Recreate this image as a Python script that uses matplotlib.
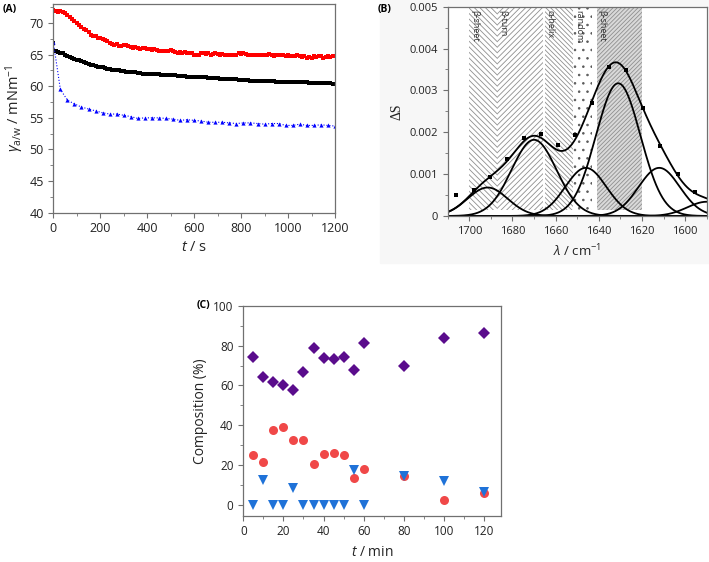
import numpy as np
import matplotlib.pyplot as plt
from matplotlib.patches import Rectangle
from matplotlib.ticker import MultipleLocator, FuncFormatter

plt.rcParams['font.family'] = ['Open Sans', 'DejaVu Sans']
plt.rcParams['mathtext.fontset'] = 'custom'
plt.rcParams['mathtext.rm'] = 'Open Sans'
plt.rcParams['mathtext.it'] = 'Open Sans:italic'
plt.rcParams['hatch.linewidth'] = 0.6

# ---------------- panel A: surface tension vs time ----------------
t_dense = np.arange(0, 1201, 10)
gamma_red = [72.0, 71.9, 71.8, 71.9, 71.7, 71.5, 71.3, 71.0, 70.7, 70.3,
             70.0, 69.7, 69.4, 69.1, 68.9, 68.6, 68.1, 67.9, 67.9, 67.7,
             67.6, 67.5, 67.3, 67.1, 66.8, 66.6, 66.5, 66.6, 66.4, 66.4,
             66.5, 66.5, 66.3, 66.2, 66.1, 66.2, 66.0, 65.9, 66.0, 66.1,
             65.9, 65.9, 65.8, 65.9, 65.7, 65.6, 65.5, 65.5, 65.5, 65.6,
             65.8, 65.6, 65.4, 65.3, 65.4, 65.3, 65.4, 65.3, 65.2, 65.2,
             65.0, 64.9, 65.0, 65.2, 65.2, 65.1, 65.2, 65.0, 65.1, 65.2,
             65.1, 65.0, 65.1, 65.0, 65.0, 64.9, 65.0, 64.9, 65.0, 65.2,
             65.1, 65.2, 65.1, 65.0, 64.9, 65.0, 65.0, 64.9, 64.9, 65.0,
             65.0, 65.0, 65.1, 64.9, 64.8, 64.9, 65.0, 64.9, 64.9, 64.8,
             64.9, 64.8, 64.7, 64.8, 64.9, 64.8, 64.6, 64.7, 64.5, 64.6,
             64.5, 64.7, 64.6, 64.8, 64.7, 64.5, 64.6, 64.7, 64.6, 64.7,
             64.8]
gamma_black = [66.9, 65.6, 65.4, 65.3, 65.2, 65.0, 64.8, 64.6, 64.5, 64.3,
               64.2, 64.1, 64.0, 63.8, 63.6, 63.5, 63.4, 63.3, 63.2, 63.1,
               63.1, 63.0, 62.9, 62.8, 62.7, 62.6, 62.6, 62.5, 62.5, 62.4,
               62.4, 62.3, 62.3, 62.3, 62.2, 62.2, 62.1, 62.1, 62.0, 62.0,
               62.0, 61.9, 61.9, 61.9, 61.9, 61.9, 61.8, 61.8, 61.8, 61.8,
               61.7, 61.7, 61.7, 61.6, 61.6, 61.6, 61.6, 61.5, 61.5, 61.5,
               61.5, 61.4, 61.4, 61.4, 61.4, 61.4, 61.3, 61.3, 61.3, 61.3,
               61.3, 61.2, 61.2, 61.2, 61.2, 61.1, 61.1, 61.1, 61.1, 61.0,
               61.0, 61.0, 61.0, 61.0, 60.9, 60.9, 60.9, 60.9, 60.9, 60.8,
               60.8, 60.8, 60.8, 60.8, 60.8, 60.7, 60.7, 60.7, 60.7, 60.7,
               60.7, 60.6, 60.6, 60.6, 60.6, 60.6, 60.6, 60.6, 60.6, 60.5,
               60.5, 60.5, 60.5, 60.5, 60.5, 60.5, 60.5, 60.5, 60.5, 60.4,
               60.4]
t_blue = np.arange(0, 1201, 30)
gamma_blue = [67.0, 59.5, 57.8, 57.2, 56.7, 56.4, 56.1, 55.8, 55.6, 55.6,
              55.4, 55.2, 54.9, 55.0, 55.0, 55.0, 54.9, 54.8, 54.6, 54.7,
              54.6, 54.5, 54.3, 54.3, 54.3, 54.2, 54.1, 54.2, 54.2, 54.1,
              54.0, 54.1, 54.1, 53.8, 53.8, 54.0, 53.8, 53.8, 53.9, 53.8,
              53.7]

# ---------------- panel B: amide I band deconvolution ----------------
wn_points = [1706.0, 1697.9, 1690.3, 1682.5, 1674.5, 1666.7, 1658.9, 1651.0,
             1643.0, 1635.3, 1627.2, 1619.6, 1611.7, 1603.5, 1595.6]
dS_points = [0.00049, 0.00061, 0.00094, 0.00135, 0.00186, 0.00195, 0.00170,
             0.00193, 0.00271, 0.00357, 0.00349, 0.00257, 0.00166, 0.00100,
             0.00057]
# fitted gaussian components (centre, height, width)
peak_centres = [1691.5, 1670.0, 1646.0, 1631.0, 1612.0, 1590.0]
peak_heights = [0.00068, 0.00182, 0.00115, 0.00317, 0.00115, 0.00034]
peak_widths = [9.3, 10.4, 9.5, 10.3, 9.5, 9.0]
# assignment bands
band_names = [u'\u03b2-sheet', u'\u03b2-turn', u'\u03b1-helix', 'random', u'\u03b2-sheet']
band_from = [1700, 1687, 1665, 1652, 1641]
band_to = [1687, 1666, 1652, 1643, 1620]
band_hatch = ['\\' * 6, '/' * 6, '\\' * 7, '..', '/' * 8]
band_face = ['white', 'white', 'white', 'white', '#d9d9d9']
band_edge = ['#8f8f8f', '#8f8f8f', '#8f8f8f', '#5a5a5a', '#8f8f8f']

# ---------------- panel C: composition vs time ----------------
t_min = [5, 10, 15, 20, 25, 30, 35, 40, 45, 50, 55, 60, 80, 100, 120]
comp_diamond = [74.4, 64.4, 61.9, 60.2, 57.7, 66.6, 78.9, 73.6, 73.1, 74.4,
                67.7, 81.4, 69.9, 83.9, 86.5]
comp_circle = [25.1, 21.7, 37.6, 39.3, 32.6, 32.6, 20.6, 25.6, 26.3, 25.1,
               13.7, 18.1, 14.7, 2.8, 5.9]
comp_triangle = [0, 12.5, 0, 0, 8.4, 0, 0, 0, 0, 0, 17.6, 0, 14.7, 12.2, 6.7]

fig = plt.figure(figsize=(7.09, 5.62), dpi=100)
# faint grey background behind panel B
fig.patches.append(Rectangle((380 / 709, 1 - 263 / 562), 329 / 709, 263 / 562,
                             transform=fig.transFigure, color='#f7f7f7', zorder=-10))

def style_axes(ax, size):
    for s in ax.spines.values():
        s.set_color('#707070')
        s.set_linewidth(0.9)
    ax.tick_params(which='both', direction='out', top=False, right=False,
                   colors='#707070', labelcolor='#222222', labelsize=size)
    ax.tick_params(which='major', length=3.5)
    ax.tick_params(which='minor', length=2)

# panel A
axA = fig.add_axes([0.0752, 0.6215, 0.3973, 0.3714])
axA.plot(t_dense, gamma_red, 's', color='#ff0000', ms=2.2, mew=0)
axA.plot(t_dense, gamma_black, 's', color='#000000', ms=2.2, mew=0)
axA.plot(t_blue, gamma_blue, ':^', color='#0000ff', ms=3, mew=0, lw=0.8)
axA.set_xlim(0, 1200)
axA.set_ylim(40, 73)
axA.xaxis.set_major_locator(MultipleLocator(200))
axA.xaxis.set_minor_locator(MultipleLocator(100))
axA.yaxis.set_major_locator(MultipleLocator(5))
axA.yaxis.set_minor_locator(MultipleLocator(2.5))
style_axes(axA, 9)
axA.set_xlabel(r'$\it{t}$ / s', fontsize=10.5, color='#222222', labelpad=3)
axA.set_ylabel(r'$\gamma_{\mathrm{a/w}}$ / mNm$^{-1}$', fontsize=10.5,
               color='#222222', labelpad=2)
fig.text(0.003, 0.993, '(A)', fontsize=7.5, fontweight='bold', va='top')

# panel B
axB = fig.add_axes([0.6315, 0.6157, 0.3653, 0.3724])
for name, x0, x1, h, fc, ec in zip(band_names, band_from, band_to, band_hatch,
                                   band_face, band_edge):
    axB.axvspan(x0, x1, ymin=0.03, ymax=1, facecolor=fc, edgecolor=ec,
                lw=0, hatch=h, zorder=0)
    axB.text(x0 - 2.5, 0.00493, name, rotation=-90, ha='center', va='top',
             fontsize=6.5, color='#333333', zorder=1)
wn = np.linspace(1590, 1712, 500)
components = [hh * np.exp(-(wn - c) ** 2 / (2 * w ** 2))
              for c, hh, w in zip(peak_centres, peak_heights, peak_widths)]
for comp in components:
    axB.plot(wn, comp, color='black', lw=1.3, zorder=2)
axB.plot(wn, np.sum(components, axis=0), color='black', lw=1.3, zorder=2)
axB.plot(wn_points, dS_points, 's', color='black', ms=3.2, mew=0, zorder=3)
axB.set_xlim(1710, 1590)
axB.set_ylim(0, 0.005)
axB.xaxis.set_major_locator(MultipleLocator(20))
axB.xaxis.set_minor_locator(MultipleLocator(10))
axB.yaxis.set_major_locator(MultipleLocator(0.001))
axB.yaxis.set_minor_locator(MultipleLocator(0.0005))
axB.yaxis.set_major_formatter(FuncFormatter(lambda v, p: '0' if abs(v) < 1e-9 else '%.3f' % v))
style_axes(axB, 8)
axB.set_xlabel(r'$\lambda$ / cm$^{-1}$', fontsize=9.5, color='#222222', labelpad=4)
axB.set_ylabel(u'\u0394S', fontsize=10, family='Liberation Serif',
               color='#222222', labelpad=4)
fig.text(0.532, 0.993, '(B)', fontsize=7.5, fontweight='bold', va='top')

# panel C
axC = fig.add_axes([0.3432, 0.0824, 0.3634, 0.3736])
axC.plot(t_min, comp_diamond, 'D', color='#5a0c8c', ms=6, mew=0)
axC.plot(t_min, comp_circle, 'o', color='#f04848', ms=6.5, mew=0)
axC.plot(t_min, comp_triangle, 'v', color='#1f72d8', ms=7, mew=0)
axC.set_xlim(0, 128.5)
axC.set_ylim(-5.3, 100)
axC.xaxis.set_major_locator(MultipleLocator(20))
axC.xaxis.set_minor_locator(MultipleLocator(10))
axC.yaxis.set_major_locator(MultipleLocator(20))
axC.yaxis.set_minor_locator(MultipleLocator(10))
style_axes(axC, 8.5)
axC.set_xlabel(r'$\it{t}$ / min', fontsize=10, color='#222222', labelpad=5)
axC.set_ylabel('Composition (%)', fontsize=10, color='#222222', labelpad=4)
fig.text(0.278, 0.456, '(C)', fontsize=7.5, fontweight='bold', va='center')

fig.savefig('out.png', dpi=100)
